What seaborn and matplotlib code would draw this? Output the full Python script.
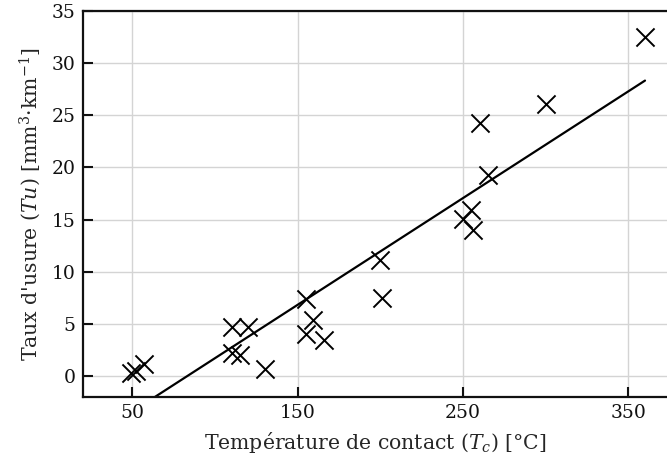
import numpy as np
import pandas as pd
import matplotlib
matplotlib.use("Agg")
import matplotlib.pyplot as plt
import seaborn as sns

# contact temperature [°C] and wear rate [mm3/km]
temp_c = [49, 52, 57, 110, 120, 110, 115, 130, 155, 159, 155, 166,
          200, 201, 250, 255, 256, 260, 265, 300, 360]
wear = [0.3, 0.5, 1.2, 4.7, 4.7, 2.2, 2.0, 0.7, 7.4, 5.4, 4.0, 3.5,
        11.1, 7.5, 15.1, 15.9, 14.0, 24.3, 19.3, 26.1, 32.5]
x_ticks = [50, 150, 250, 350]
y_ticks = [0, 5, 10, 15, 20, 25, 30, 35]

df = pd.DataFrame({"Tc": temp_c, "Tu": wear})

sns.set_theme(style="whitegrid", rc={
    "grid.color": "#d4d4d4",
    "grid.linewidth": 1.0,
    "axes.edgecolor": "#111111",
    "axes.linewidth": 1.6,
})
plt.rcParams["font.family"] = ["DejaVu Serif"]
plt.rcParams["mathtext.fontset"] = "dejavuserif"

fig = plt.figure(figsize=(6.67, 4.70), dpi=100)
ax = fig.add_axes([0.124, 0.1555, 0.876, 0.821])

sns.regplot(data=df, x="Tc", y="Tu", ax=ax, scatter=False, ci=None,
            color="black", line_kws=dict(linewidth=1.6))
sns.scatterplot(data=df, x="Tc", y="Tu", ax=ax, marker="x", s=170,
                color="black", linewidth=1.4)

ax.set_xlim(20, 373.3)
ax.set_ylim(-2, 35)
ax.set_xticks(x_ticks)
ax.set_yticks(y_ticks)
ax.spines["right"].set_visible(False)
ax.tick_params(axis="both", which="both", direction="in", length=7, width=1.5,
               labelsize=13.5, pad=5, colors="#111111",
               bottom=True, left=True, top=False, right=False)

ax.set_xlabel(r"Température de contact ($T_c$) [°C]", fontsize=14.7,
              labelpad=6)
ax.set_ylabel(r"Taux d'usure ($Tu$) [mm$^3$·km$^{-1}$]", fontsize=14.7,
              labelpad=6)

fig.savefig("out.png", dpi=100)
